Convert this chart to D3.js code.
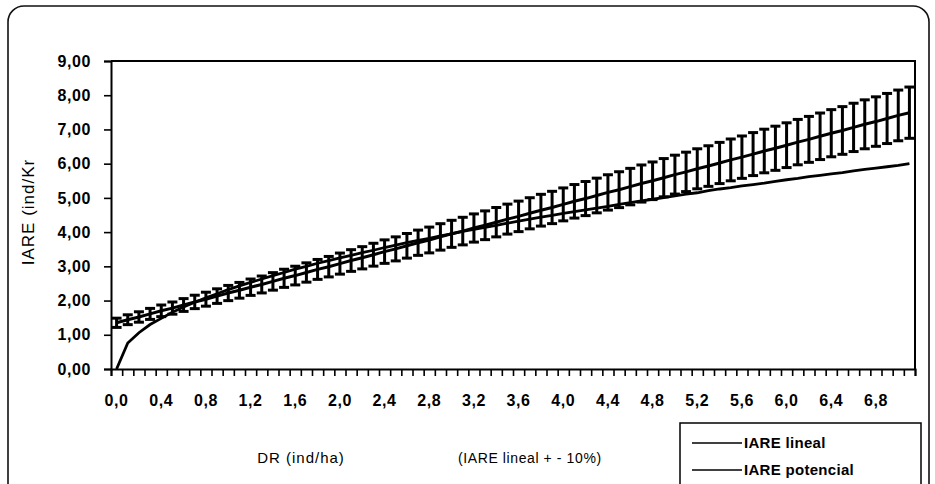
<!DOCTYPE html>
<html><head><meta charset="utf-8">
<script src="https://cdn.jsdelivr.net/npm/d3@7"></script>
<style>
html,body{margin:0;padding:0;background:#fff;}
svg{display:block;font-family:"Liberation Sans",Arial,sans-serif;}
</style></head>
<body>
<svg id="chart" width="935" height="484"></svg>
<script>
// ---- data ----
const categories = ["0,0","0,1","0,2","0,3","0,4","0,5","0,6","0,7","0,8","0,9",
  "1,0","1,1","1,2","1,3","1,4","1,5","1,6","1,7","1,8","1,9",
  "2,0","2,1","2,2","2,3","2,4","2,5","2,6","2,7","2,8","2,9",
  "3,0","3,1","3,2","3,3","3,4","3,5","3,6","3,7","3,8","3,9",
  "4,0","4,1","4,2","4,3","4,4","4,5","4,6","4,7","4,8","4,9",
  "5,0","5,1","5,2","5,3","5,4","5,5","5,6","5,7","5,8","5,9",
  "6,0","6,1","6,2","6,3","6,4","6,5","6,6","6,7","6,8","6,9",
  "7,0","7,1"];
const iareLineal = [1.35,1.44,1.52,1.61,1.70,1.78,1.87,1.96,2.04,2.13,
  2.22,2.30,2.39,2.47,2.56,2.65,2.73,2.82,2.91,2.99,
  3.08,3.17,3.25,3.34,3.43,3.51,3.60,3.69,3.77,3.86,
  3.95,4.03,4.12,4.20,4.29,4.38,4.46,4.55,4.64,4.72,
  4.81,4.90,4.98,5.07,5.16,5.24,5.33,5.42,5.50,5.59,
  5.68,5.76,5.85,5.93,6.02,6.11,6.19,6.28,6.37,6.45,
  6.54,6.63,6.71,6.80,6.89,6.97,7.06,7.15,7.23,7.32,
  7.41,7.49];
const iarePotencial = [0.00,0.76,1.06,1.30,1.48,1.66,1.81,1.95,2.08,2.20,
  2.32,2.43,2.53,2.63,2.73,2.82,2.92,3.00,3.09,3.17,
  3.25,3.32,3.40,3.47,3.55,3.62,3.69,3.76,3.82,3.89,
  3.95,4.02,4.08,4.14,4.20,4.26,4.32,4.38,4.44,4.49,
  4.55,4.60,4.65,4.70,4.75,4.81,4.86,4.91,4.96,5.01,
  5.06,5.11,5.15,5.21,5.26,5.30,5.35,5.39,5.43,5.48,
  5.53,5.57,5.62,5.66,5.70,5.74,5.79,5.83,5.87,5.91,
  5.95,6.00];
const errorPct = 0.10; // "IARE lineal +- 10%"
const xTickLabels = ["0,0","0,4","0,8","1,2","1,6","2,0","2,4","2,8","3,2","3,6",
  "4,0","4,4","4,8","5,2","5,6","6,0","6,4","6,8"];
const yTicks = [0,1,2,3,4,5,6,7,8,9];
const legendLabels = ["IARE lineal","IARE potencial"];

// ---- layout ----
const svg = d3.select("#chart");
const L = 111, R = 915, T = 61, B = 369;

// outer frame
svg.append("rect").attr("x",8).attr("y",6).attr("width",921).attr("height",520)
  .attr("rx",16).attr("ry",16).attr("fill","none").attr("stroke","#111").attr("stroke-width",1.6);

const x = d3.scaleBand().domain(categories).range([L,R]).padding(0);
const xIdx = d3.scaleLinear().domain([0,categories.length]).range([L,R]);
const y = d3.scaleLinear().domain([0,9]).range([B,T]);

// plot frame (top & right)
svg.append("path").attr("d",`M${L},${T}H${R}V${B}`).attr("fill","none")
  .attr("stroke","#000").attr("stroke-width",2);

// y axis
const yAxis = svg.append("g").attr("transform",`translate(${L},0)`)
  .call(d3.axisLeft(y).tickValues(yTicks)
    .tickFormat(d => d3.format(".2f")(d).replace(".", ","))
    .tickSize(7).tickPadding(13));
yAxis.select(".domain").attr("stroke","#000").attr("stroke-width",2);
yAxis.selectAll(".tick line").attr("stroke","#000").attr("stroke-width",1.6);
yAxis.selectAll("text").attr("font-size",16).attr("font-weight","bold")
  .attr("letter-spacing","0.6px").attr("fill","#000");

// x axis ticks at category boundaries
const xTickAxis = svg.append("g").attr("transform",`translate(0,${B})`)
  .call(d3.axisBottom(xIdx).tickValues(d3.range(categories.length+1)).tickFormat("").tickSize(7));
xTickAxis.select(".domain").attr("stroke","#000").attr("stroke-width",2);
xTickAxis.selectAll(".tick line").attr("stroke","#000").attr("stroke-width",1.6);

// x labels at category centres
const xLab = svg.append("g").attr("transform",`translate(0,${B})`)
  .call(d3.axisBottom(x).tickValues(xTickLabels).tickSize(0).tickPadding(26));
xLab.select(".domain").remove();
xLab.selectAll("text").attr("font-size",16).attr("font-weight","bold")
  .attr("letter-spacing","0.6px").attr("fill","#000");

// error bars
const cx = c => x(c) + x.bandwidth()/2;
const eb = svg.append("g").attr("stroke","#000").attr("stroke-width",3).attr("fill","none");
categories.forEach((c,i) => {
  const v = iareLineal[i];
  const hi = y(v*(1+errorPct)), lo = y(v*(1-errorPct)), xc = cx(c);
  eb.append("line").attr("x1",xc).attr("x2",xc).attr("y1",hi).attr("y2",lo);
  eb.append("line").attr("x1",xc-5).attr("x2",xc+5).attr("y1",hi).attr("y2",hi);
  eb.append("line").attr("x1",xc-5).attr("x2",xc+5).attr("y1",lo).attr("y2",lo);
});

// lines
const line = d3.line().x((d,i)=>cx(categories[i])).y(d=>y(d));
svg.append("path").datum(iareLineal).attr("d",line).attr("fill","none")
  .attr("stroke","#000").attr("stroke-width",3);
svg.append("path").datum(iarePotencial).attr("d",line).attr("fill","none")
  .attr("stroke","#000").attr("stroke-width",2.8);

// axis titles
svg.append("text").attr("transform","translate(34,212) rotate(-90)")
  .attr("text-anchor","middle").attr("font-size",17).attr("letter-spacing","1px")
  .attr("fill","#000").text("IARE (ind/Kr");
svg.append("text").attr("x",301).attr("y",463).attr("text-anchor","middle")
  .attr("font-size",15).attr("letter-spacing","1px").attr("fill","#000").text("DR (ind/ha)");
svg.append("text").attr("x",458).attr("y",463)
  .attr("font-size",14).attr("letter-spacing","0.6px").attr("fill","#000").text("(IARE lineal + - 10%)");

// legend
const lg = svg.append("g");
lg.append("rect").attr("x",680).attr("y",423).attr("width",241).attr("height",80)
  .attr("fill","#fff").attr("stroke","#000").attr("stroke-width",1.5);
legendLabels.forEach((t,i) => {
  const yy = 443 + i*27;
  lg.append("line").attr("x1",692).attr("x2",742).attr("y1",yy).attr("y2",yy)
    .attr("stroke","#000").attr("stroke-width",1.5);
  lg.append("text").attr("x",744).attr("y",yy+5).attr("font-size",15)
    .attr("font-weight","bold").attr("letter-spacing","0.3px").attr("fill","#000").text(t);
});
</script>
</body></html>
